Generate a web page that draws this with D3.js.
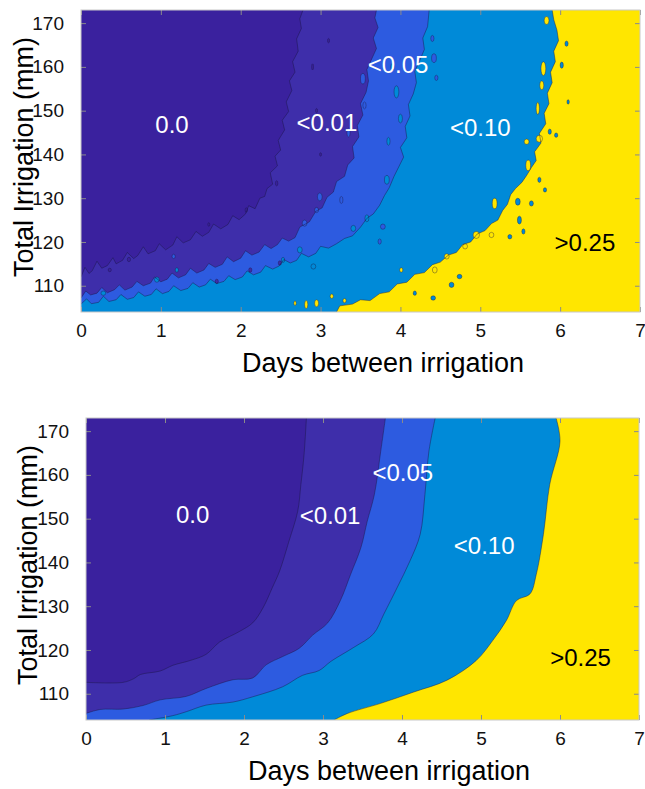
<!DOCTYPE html>
<html>
<head>
<meta charset="utf-8">
<script src="https://cdn.jsdelivr.net/npm/d3@7"></script>
<style>
  body { margin: 0; background: #fff; }
  text { font-family: "Liberation Sans", Arial, sans-serif; }
</style>
</head>
<body>
<svg id="chart" width="645" height="789"></svg>
<script>
// ticks + levels
const xTicks = [0, 1, 2, 3, 4, 5, 6, 7];
const yTicks = [110, 120, 130, 140, 150, 160, 170];
const levelColors = ["#3a219e", "#3e2eaa", "#2d5be0", "#008ad8", "#ffe600"];
const levelLabels = ["0.0", "<0.01", "<0.05", "<0.10", ">0.25"];

// top panel: noisy contour borders [days, mm]
const topB1 = [[0,112.0],[0.05,114.2],[0.1,112.8],[0.14,113.4],[0.2,115.6],[0.26,114.0],[0.33,114.6],[0.4,116.4],[0.44,115.0],[0.52,115.8],[0.58,117.6],[0.66,116.2],[0.71,116.9],[0.78,118.9],[0.84,117.3],[0.93,118.0],[0.98,119.6],[1.06,118.2],[1.15,119.3],[1.2,121.2],[1.28,119.8],[1.37,120.5],[1.44,122.4],[1.52,121.3],[1.6,122.2],[1.66,124.1],[1.75,123.0],[1.84,124.0],[1.9,126.0],[1.98,125.1],[2.06,126.4],[2.1,128.3],[2.18,127.6],[2.24,130.0],[2.3,130.4],[2.33,132.2],[2.4,133.2],[2.37,135.8],[2.46,137.4],[2.43,139.6],[2.5,141.0],[2.47,143.2],[2.55,145.6],[2.52,147.8],[2.6,149.8],[2.57,152.0],[2.64,154.6],[2.61,156.8],[2.68,158.8],[2.65,161.2],[2.72,163.6],[2.7,166.4],[2.76,168.8],[2.74,171.0],[2.78,173]];
const topB2 = [[0,107.2],[0.06,108.8],[0.12,107.9],[0.2,108.3],[0.26,109.6],[0.33,108.4],[0.42,109.1],[0.48,110.2],[0.55,109.0],[0.64,109.7],[0.7,111.0],[0.78,110.0],[0.87,110.6],[0.92,112.0],[1.0,110.9],[1.08,111.5],[1.14,112.9],[1.22,111.8],[1.31,112.5],[1.37,114.0],[1.45,112.9],[1.54,113.6],[1.6,115.1],[1.68,114.2],[1.77,114.9],[1.83,116.6],[1.91,115.5],[2.0,116.3],[2.06,118.0],[2.14,117.0],[2.23,117.7],[2.3,119.4],[2.38,118.5],[2.46,119.4],[2.52,120.9],[2.6,120.2],[2.68,121.0],[2.74,123.4],[2.86,124.6],[2.94,127.0],[3.02,127.8],[3.08,130.2],[3.16,131.4],[3.2,133.8],[3.3,135.0],[3.34,137.6],[3.42,139.2],[3.4,141.8],[3.48,144.0],[3.46,146.6],[3.53,149.0],[3.5,151.6],[3.57,154.2],[3.6,156.8],[3.58,159.4],[3.64,161.8],[3.7,164.2],[3.66,166.6],[3.72,169.0],[3.68,171.2],[3.7,173]];
const topB3 = [[0,105.8],[0.07,107.0],[0.13,105.9],[0.22,106.2],[0.28,107.6],[0.35,106.4],[0.44,106.8],[0.5,108.0],[0.58,106.9],[0.66,107.3],[0.72,108.6],[0.8,107.6],[0.88,108.0],[0.94,109.3],[1.02,108.2],[1.1,108.7],[1.16,110.0],[1.25,108.9],[1.34,109.4],[1.4,110.7],[1.48,109.7],[1.56,110.2],[1.62,111.5],[1.7,110.5],[1.79,111.0],[1.85,112.3],[1.93,111.4],[2.02,112.0],[2.08,113.4],[2.16,112.5],[2.25,113.1],[2.31,114.6],[2.4,113.8],[2.48,114.5],[2.54,116.0],[2.62,115.2],[2.7,115.8],[2.76,117.4],[2.85,116.6],[2.94,117.4],[3.0,119.0],[3.1,118.6],[3.2,119.6],[3.3,120.8],[3.4,121.4],[3.5,123.4],[3.58,125.4],[3.66,126.4],[3.74,128.4],[3.8,130.6],[3.86,132.4],[3.92,135.0],[3.98,137.2],[4.04,139.4],[4.0,141.6],[4.08,143.8],[4.06,146.4],[4.12,148.8],[4.1,151.4],[4.16,153.8],[4.2,156.4],[4.18,159.0],[4.24,161.4],[4.3,164.0],[4.28,166.6],[4.34,169.2],[4.36,173]];
const topB4 = [[3.2,104],[3.24,105.4],[3.4,105.8],[3.5,106.8],[3.62,106.6],[3.74,108.2],[3.86,108.6],[3.96,110.4],[4.08,110.8],[4.18,112.6],[4.3,113.0],[4.4,114.8],[4.5,115.4],[4.6,117.0],[4.7,117.6],[4.78,119.4],[4.88,120.0],[4.96,121.8],[5.06,122.6],[5.14,124.2],[5.22,125.0],[5.28,127.2],[5.34,128.6],[5.38,130.8],[5.44,132.2],[5.52,133.6],[5.58,135.2],[5.64,137.0],[5.7,138.6],[5.68,140.6],[5.76,142.6],[5.74,144.8],[5.82,147.0],[5.8,149.4],[5.86,151.6],[5.84,154.0],[5.9,156.4],[5.88,158.8],[5.94,161.2],[5.92,163.6],[5.98,166.0],[5.96,168.4],[5.92,170.8],[5.9,173]];

// little patches in the top panel: [days, mm, half width (days), half height (mm), level]
const topIslands = [
  [4.95,121.6,0.04,0.8,4],[4.81,119.0,0.03,0.6,4],[5.18,128.8,0.03,1.2,4],[5.14,121.6,0.03,0.6,4],[4.58,116.7,0.03,0.6,4],
  [4.43,113.6,0.03,0.7,4],[4.01,113.6,0.02,0.5,4],[5.79,159.6,0.03,1.6,4],[5.77,155.8,0.025,1.0,4],[5.74,143.6,0.04,0.8,4],
  [5.58,142.9,0.03,0.6,4],[5.83,170.6,0.03,0.9,4],[5.6,137.5,0.03,1.2,4],[5.72,150.5,0.02,1.4,4],[2.82,105.7,0.02,0.9,4],
  [2.95,106.0,0.025,0.8,4],[3.14,107.6,0.02,0.5,4],[2.68,106.0,0.015,0.5,4],[3.3,106.6,0.02,0.5,4],
  [5.47,129.2,0.03,0.8,3],[5.64,128.8,0.025,0.6,3],[5.49,125.0,0.025,0.9,3],[5.54,122.4,0.02,0.6,3],[5.37,121.2,0.025,0.5,3],
  [5.74,134.2,0.02,0.6,3],[5.81,131.9,0.02,0.5,3],[4.74,112.1,0.03,0.5,3],[4.64,110.2,0.03,0.6,3],[4.41,107.2,0.03,0.5,3],
  [4.18,108.3,0.02,0.5,3],[6.02,160.4,0.02,0.7,3],[6.08,165.3,0.02,0.6,3],[5.87,145.2,0.02,0.6,3],[5.95,144.4,0.02,0.5,3],
  [6.1,152.0,0.015,0.5,3],
  [4.42,162.0,0.03,1.0,2],[4.4,166.5,0.02,0.7,2],[3.78,123.5,0.03,0.6,2],[3.74,120.1,0.02,0.6,2],[4.45,157.5,0.02,0.6,2],
  [3.95,154.3,0.03,1.4,3],[4.0,148.2,0.025,1.0,3],[2.74,118.2,0.03,0.7,3],[2.53,115.9,0.02,0.6,3],[2.91,114.4,0.03,0.6,3],
  [3.41,123.1,0.03,0.7,3],[3.58,125.4,0.025,0.8,3],[3.83,134.2,0.03,1.0,3],[0.95,111.4,0.03,0.6,3],[0.28,108.3,0.03,0.5,3],
  [1.2,113.6,0.02,0.5,3],[3.9,160.0,0.02,0.8,3],[3.85,143.0,0.02,0.9,3],
  [3.53,157.3,0.03,1.2,2],[3.55,151.2,0.02,0.8,2],[2.99,130.3,0.03,0.9,2],[2.95,127.3,0.025,0.6,2],[3.26,129.6,0.02,0.8,2],
  [2.80,124.3,0.03,0.7,2],[1.16,116.7,0.02,0.5,2],[3.35,145.0,0.02,1.0,2],
  [2.49,115.2,0.02,0.5,1],[2.12,113.6,0.02,0.5,1],[1.7,111.0,0.02,0.5,1],
  [2.45,133.4,0.015,0.6,0],[2.07,127.3,0.015,0.5,0],[0.36,113.6,0.02,0.4,0],[0.6,116.0,0.02,0.5,0],[2.9,160.0,0.012,0.7,0],
  [2.95,150.0,0.012,0.5,0],[3.0,140.0,0.012,0.4,0],[1.6,124.0,0.012,0.4,0],[3.1,166.0,0.012,0.5,0]
];
const topLabelPos = [[1.14,146.9],[3.08,147.4],[3.97,160.6],[5.0,146.2],[6.31,119.8]];

// bottom panel: smooth contour borders
const botB1 = [[0,112.6],[0.47,112.6],[0.6,113.4],[0.69,114.4],[0.94,115.2],[1.1,116.5],[1.32,117.6],[1.52,119.0],[1.69,121.8],[1.94,124.2],[2.11,126.2],[2.24,129.6],[2.36,134.3],[2.45,138.0],[2.57,144.9],[2.68,151.7],[2.72,157.8],[2.76,164.6],[2.79,173]];
const botB2 = [[0,105.5],[0.18,106.4],[0.47,106.5],[0.72,107.3],[0.94,108.6],[1.27,109.4],[1.52,111.2],[1.86,113.2],[2.11,113.6],[2.28,116.6],[2.49,118.5],[2.7,120.4],[2.87,123.4],[3.06,126.2],[3.22,131.3],[3.35,137.3],[3.48,143.4],[3.56,149.4],[3.65,155.5],[3.73,165.3],[3.79,173]];
const botB3 = [[0.8,104],[1.1,105.0],[1.27,105.9],[1.52,107.4],[1.86,108.1],[2.11,109.3],[2.49,111.6],[2.74,114.2],[2.95,115.3],[3.1,117.4],[3.39,120.6],[3.64,123.7],[3.77,128.2],[3.94,134.3],[4.1,140.3],[4.23,146.4],[4.29,155.5],[4.34,165.3],[4.42,173]];
const botB4 = [[3.14,104],[3.31,105.5],[3.73,107.8],[4.15,110.4],[4.57,113.1],[4.94,117.6],[5.15,122.2],[5.32,126.7],[5.45,131.3],[5.62,132.8],[5.7,137.3],[5.79,146.4],[5.87,157.8],[6.0,167.7],[5.95,173]];
const botLabelPos = [[1.35,150.9],[3.09,150.7],[4.01,160.5],[5.04,143.9],[6.26,118.2]];

const svg = d3.select("#chart");

function drawPanel(id, box, borders, islands, labelPos, curve) {
  const x = d3.scaleLinear().domain([0, 7]).range([0, box.w]);
  const y = d3.scaleLinear().domain([104, 173]).range([box.h, 0]);

  const g = svg.append("g").attr("transform", `translate(${box.l},${box.t})`);

  g.append("clipPath").attr("id", "clip" + id)
    .append("rect").attr("width", box.w).attr("height", box.h);

  const plot = g.append("g").attr("clip-path", `url(#clip${id})`);

  plot.append("rect")
    .attr("width", box.w).attr("height", box.h)
    .attr("fill", levelColors[0]);

  const line = d3.line().x(d => x(d[0])).y(d => y(d[1])).curve(curve);

  // fill everything right/below each border with the next level colour
  borders.forEach((b, i) => {
    const corners = [[7, 173], [7, 104], [0, 104]]
      .map(c => `L${x(c[0])},${y(c[1])}`).join("");
    plot.append("path")
      .attr("d", line(b) + corners + "Z")
      .attr("fill", levelColors[i + 1]);
  });

  plot.selectAll("ellipse")
    .data(islands)
    .join("ellipse")
    .attr("cx", d => x(d[0]))
    .attr("cy", d => y(d[1]))
    .attr("rx", d => x(d[0] + d[2]) - x(d[0]))
    .attr("ry", d => y(d[1]) - y(d[1] + d[3]))
    .attr("fill", d => levelColors[d[4]])
    .attr("stroke", "#1a1440")
    .attr("stroke-opacity", 0.55)
    .attr("stroke-width", 0.7);

  borders.forEach(b => {
    plot.append("path")
      .attr("d", line(b))
      .attr("fill", "none")
      .attr("stroke", "#1a1440")
      .attr("stroke-opacity", 0.55)
      .attr("stroke-width", 0.8);
  });

  // region labels
  g.selectAll(".lab")
    .data(labelPos)
    .join("text")
    .attr("class", "lab")
    .attr("x", d => x(d[0]))
    .attr("y", d => y(d[1]))
    .attr("text-anchor", "middle")
    .attr("dominant-baseline", "central")
    .attr("font-size", 24)
    .attr("fill", (d, i) => i == 4 ? "#000" : "#fff")
    .text((d, i) => levelLabels[i]);

  // axes with inward ticks, MATLAB style
  g.append("g").attr("transform", `translate(0,${box.h})`)
    .call(d3.axisBottom(x).tickValues(xTicks).tickSize(-5).tickPadding(12).tickFormat(d3.format("d")));
  g.append("g")
    .call(d3.axisLeft(y).tickValues(yTicks).tickSize(-5).tickPadding(17));
  g.append("g").call(d3.axisTop(x).tickValues(xTicks).tickSize(-5).tickFormat(""));
  g.append("g").attr("transform", `translate(${box.w},0)`)
    .call(d3.axisRight(y).tickValues(yTicks).tickSize(-5).tickFormat(""));

  g.selectAll(".domain").remove();
  g.selectAll(".tick line").attr("stroke", "#8a8a8a");
  g.selectAll(".tick text").attr("font-size", 19).attr("fill", "#111")
    .style("font-family", '"Liberation Sans", Arial, sans-serif');

  g.append("rect")
    .attr("width", box.w).attr("height", box.h)
    .attr("fill", "none").attr("stroke", "#c8c8c8").attr("stroke-width", 1);

  g.append("text")
    .attr("x", box.tx).attr("y", box.h + 60)
    .attr("text-anchor", "middle")
    .attr("font-size", 27)
    .attr("fill", "#000")
    .text("Days between irrigation");

  g.append("text")
    .attr("transform", `translate(${box.ty},${box.h / 2 - 4}) rotate(-90)`)
    .attr("text-anchor", "middle")
    .attr("dominant-baseline", "central")
    .attr("font-size", 27)
    .attr("fill", "#000")
    .text("Total Irrigation (mm)");
}

drawPanel("top", {l: 81, t: 10, w: 559, h: 302, tx: 302, ty: -57},
  [topB1, topB2, topB3, topB4], topIslands, topLabelPos, d3.curveLinear);
drawPanel("bot", {l: 86, t: 418, w: 553, h: 302, tx: 303, ty: -58},
  [botB1, botB2, botB3, botB4], [], botLabelPos, d3.curveCatmullRom);
</script>
</body>
</html>
